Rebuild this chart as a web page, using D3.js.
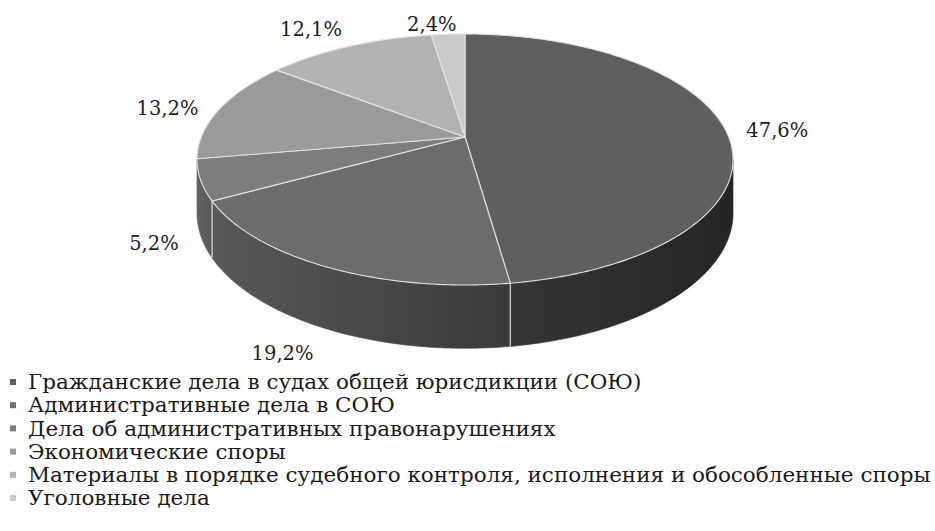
<!DOCTYPE html>
<html>
<head>
<meta charset="utf-8">
<script src="https://cdn.jsdelivr.net/npm/d3@7"></script>
<style>
  html, body { margin: 0; padding: 0; background: #ffffff; }
  svg { display: block; }
</style>
</head>
<body>
<svg id="chart" width="935" height="531"></svg>
<script>
// Case categories and their shares, percent
const categories = [
  "Гражданские дела в судах общей юрисдикции (СОЮ)",
  "Административные дела в СОЮ",
  "Дела об административных правонарушениях",
  "Экономические споры",
  "Материалы в порядке судебного контроля, исполнения и обособленные споры",
  "Уголовные дела"
];
const shares = [47.6, 19.2, 5.2, 13.2, 12.1, 2.4];

// Grey shades: top faces and side walls
const topColors  = ["#5f5f5f", "#6c6c6c", "#7d7d7d", "#9a9a9a", "#b2b2b2", "#cacaca"];
const sideLeft   = ["#353535", "#585858", "#626262", "#707070", "#808080", "#909090"];
const sideRight  = ["#252525", "#3a3a3a", "#585858", "#606060", "#707070", "#808080"];

const svg = d3.select("#chart");
const defs = svg.append("defs");

// Tilted pie geometry (simple perspective of a flat disc)
const cx = 465, cy = 137;      // centre of the disc on screen
const A = 263.7, B = 121.5;    // horizontal / vertical radii
const K = 0.179;               // perspective strength
const H = 52;                  // thickness of the disc

function proj(a, r = 1, drop = 0) {
  const u = r * Math.sin(a), v = -r * Math.cos(a);
  const w = 1 - K * v;
  return [cx + A * u / w, cy + B * v / w + drop / w];
}

function arcPoints(a0, a1, r, drop) {
  const n = Math.max(2, Math.ceil(Math.abs(a1 - a0) / (Math.PI / 360)));
  const pts = [];
  for (let i = 0; i <= n; i++) pts.push(proj(a0 + (a1 - a0) * i / n, r, drop));
  return pts;
}

const arcs = d3.pie().sort(null).value(d => d)(shares);
const line = d3.line();

// Front part of the rim that is visible
const aFrontL = Math.acos(-K);
const aFrontR = 2 * Math.PI - aFrontL;

const gSide = svg.append("g");
arcs.forEach((d, i) => {
  const s = Math.max(d.startAngle, aFrontL);
  const e = Math.min(d.endAngle, aFrontR);
  if (e <= s) return;
  const top = arcPoints(s, e, 1, 0);
  const bot = arcPoints(e, s, 1, H);
  const pts = top.concat(bot);
  const xs = pts.map(p => p[0]);
  const gid = "side" + i;
  const lg = defs.append("linearGradient").attr("id", gid)
    .attr("gradientUnits", "userSpaceOnUse")
    .attr("x1", d3.min(xs)).attr("x2", d3.max(xs)).attr("y1", 0).attr("y2", 0);
  lg.append("stop").attr("offset", 0).attr("stop-color", sideLeft[i]);
  lg.append("stop").attr("offset", 1).attr("stop-color", sideRight[i]);
  gSide.append("path")
    .attr("d", line(pts) + "Z")
    .attr("fill", `url(#${gid})`)
    .attr("stroke", `url(#${gid})`)
    .attr("stroke-width", 0.6);
});

// Seams on the side wall at slice boundaries
arcs.forEach(d => {
  const a = d.endAngle;
  if (a > aFrontL && a < aFrontR) {
    const p0 = proj(a, 1, 0), p1 = proj(a, 1, H);
    gSide.append("line")
      .attr("x1", p0[0]).attr("y1", p0[1])
      .attr("x2", p1[0]).attr("y2", p1[1])
      .attr("stroke", "#dcdcdc").attr("stroke-width", 1.2);
  }
});

// Top faces
const gTop = svg.append("g");
arcs.forEach((d, i) => {
  const pts = [[cx, cy]].concat(arcPoints(d.startAngle, d.endAngle, 1, 0));
  gTop.append("path")
    .attr("d", line(pts) + "Z")
    .attr("fill", topColors[i])
    .attr("stroke", "#e2e2e2")
    .attr("stroke-width", 1.1)
    .attr("stroke-linejoin", "round");
});

// Percentage labels: placed just outside the rim, kept inside the plot area
const ru = d3.formatLocale({ decimal: ",", thousands: "\u00a0", grouping: [3], currency: ["", ""] });
const fmt = ru.format(".1f");
const gLab = svg.append("g")
  .attr("font-family", "'DejaVu Serif', Georgia, serif")
  .attr("font-size", 19.5)
  .attr("fill", "#1e1e1e")
  .attr("text-anchor", "middle");
const ellCx = cx, ellCy = cy + B * K / (1 - K * K);
const gap = 22, halfH = 10, plotTop = 24;
arcs.forEach(d => {
  const mid = (d.startAngle + d.endAngle) / 2;
  const front = -Math.cos(mid) > 0;
  const edge = proj(mid, 1, 0);
  let dx = edge[0] - ellCx, dy = edge[1] - ellCy;
  const len = Math.hypot(dx, dy);
  dx /= len; dy /= len;
  const t = gLab.append("text").attr("dy", "0.36em").text(fmt(d.data) + "%");
  const halfW = t.node().getComputedTextLength() / 2;
  const x = edge[0] + dx * (gap + halfW) - (dy < -0.9 ? 10 : 0);
  let y = edge[1] + (front ? H / (1 + K * Math.cos(mid)) : 0) + dy * (gap + halfH) + 5;
  y = Math.max(y, plotTop);
  t.attr("x", x).attr("y", y);
});

// Legend
const legendTop = 382, legendStep = 23.2, textX = 28, textRight = 930;
const gLeg = svg.append("g");
const items = gLeg.selectAll("g.item").data(categories).join("g")
  .attr("class", "item")
  .attr("transform", (d, i) => `translate(0,${legendTop + i * legendStep})`);
items.append("rect")
  .attr("x", 10).attr("y", -3).attr("width", 6).attr("height", 6)
  .attr("fill", (d, i) => topColors[i]);
const texts = items.append("text")
  .attr("font-family", "'DejaVu Serif Condensed', 'DejaVu Serif', serif")
  .attr("font-stretch", "condensed")
  .attr("font-size", 19.8)
  .attr("fill", "#1a1a1a")
  .attr("dy", "0.36em")
  .text(d => d);
const maxLen = d3.max(texts.nodes(), n => n.getComputedTextLength());
const sx = (textRight - textX) / maxLen;
texts.attr("transform", `translate(${textX},0) scale(${sx},1)`);
</script>
</body>
</html>
